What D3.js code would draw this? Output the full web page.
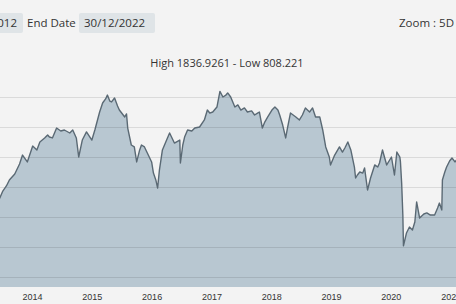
<!DOCTYPE html>
<html>
<head>
<meta charset="utf-8">
<script src="https://cdn.jsdelivr.net/npm/d3@7"></script>
<style>
  html, body { margin: 0; padding: 0; background: #f3f3f3; overflow: hidden; }
  svg { display: block; font-family: "Open Sans", "Noto Sans", sans-serif; }
  .grid line { stroke: rgba(0, 0, 0, 0.1); stroke-width: 1; }
  .axis text { fill: #333; font-size: 9px; }
</style>
</head>
<body>
<svg class="chart" width="456" height="304"></svg>
<script>
// decimal year, index level
const years = [
  2013.42, 2013.46, 2013.51, 2013.57, 2013.62, 2013.71, 2013.79, 2013.84, 2013.92,
  2014.01, 2014.08, 2014.13, 2014.21, 2014.26, 2014.29, 2014.34, 2014.41, 2014.48,
  2014.54, 2014.63, 2014.68, 2014.74, 2014.78, 2014.84, 2014.91, 2015.00, 2015.05,
  2015.13, 2015.18, 2015.23, 2015.26, 2015.30, 2015.33, 2015.38, 2015.43, 2015.46,
  2015.55, 2015.58, 2015.60, 2015.66, 2015.71, 2015.75, 2015.80, 2015.83, 2015.88,
  2015.96, 2016.00, 2016.03, 2016.07, 2016.10, 2016.13, 2016.18, 2016.25, 2016.30,
  2016.38, 2016.47, 2016.48, 2016.52, 2016.55, 2016.60, 2016.67, 2016.72, 2016.80,
  2016.88, 2016.93, 2016.97, 2017.02, 2017.09, 2017.14, 2017.19, 2017.24, 2017.27,
  2017.32, 2017.39, 2017.44, 2017.49, 2017.55, 2017.60, 2017.67, 2017.72, 2017.77,
  2017.80, 2017.85, 2017.89, 2017.94, 2018.01, 2018.06, 2018.11, 2018.14, 2018.19,
  2018.24, 2018.27, 2018.32, 2018.41, 2018.47, 2018.52, 2018.57, 2018.64, 2018.69,
  2018.74, 2018.81, 2018.86, 2018.91, 2018.97, 2018.99, 2019.06, 2019.14, 2019.19,
  2019.23, 2019.28, 2019.33, 2019.39, 2019.41, 2019.44, 2019.48, 2019.53, 2019.56,
  2019.61, 2019.66, 2019.73, 2019.78, 2019.81, 2019.86, 2019.93, 2019.98, 2020.01,
  2020.06, 2020.10, 2020.15, 2020.16, 2020.18, 2020.20, 2020.21, 2020.26, 2020.31,
  2020.36, 2020.40, 2020.43, 2020.48, 2020.55, 2020.60, 2020.66, 2020.73, 2020.78,
  2020.81, 2020.85, 2020.86, 2020.90, 2020.93, 2020.98, 2021.02, 2021.07, 2021.12
]
const levels = [
  1100, 1127, 1173, 1207, 1247, 1287, 1353, 1413, 1367,
  1473, 1447, 1500, 1527, 1547, 1533, 1527, 1593, 1573,
  1580, 1560, 1580, 1527, 1400, 1513, 1567, 1513, 1580,
  1700, 1760, 1787, 1813, 1773, 1767, 1793, 1740, 1713,
  1667, 1687, 1593, 1480, 1467, 1367, 1447, 1480, 1467,
  1400, 1367, 1293, 1247, 1193, 1313, 1447, 1513, 1560,
  1493, 1513, 1360, 1480, 1533, 1580, 1573, 1593, 1600,
  1647, 1713, 1693, 1700, 1733, 1836.9261, 1800, 1813, 1827,
  1800, 1733, 1747, 1713, 1727, 1700, 1707, 1680, 1693,
  1700, 1593, 1633, 1667, 1713, 1733, 1713, 1680, 1613,
  1527, 1593, 1693, 1667, 1647, 1680, 1727, 1700, 1727,
  1667, 1667, 1580, 1467, 1400, 1347, 1413, 1467, 1433,
  1460, 1500, 1447, 1333, 1260, 1280, 1300, 1293, 1327,
  1180, 1260, 1347, 1333, 1360, 1447, 1347, 1380, 1400,
  1280, 1433, 1400, 1367, 1227, 1013, 808.221, 893, 933,
  913, 967, 1100, 993, 1020, 1027, 1013, 1013, 1060,
  1093, 1047, 1247, 1300, 1333, 1373, 1393, 1367, 1393
]
const gridValues = [600, 800, 1000, 1200, 1400, 1600, 1800]
const tickYears = [2014, 2015, 2016, 2017, 2018, 2019, 2020, 2021]
const startDate = "30/12/2012"
const endDate = "30/12/2022"
const zoomLabel = "Zoom : 5D"

const toDate = (y) => {
  const yr = Math.floor(y)
  const t0 = new Date(yr, 0, 1), t1 = new Date(yr + 1, 0, 1)
  return new Date(+t0 + (y - yr) * (t1 - t0))
}
const data = years.map((y, i) => ({ date: toDate(y), value: levels[i] }))
const high = d3.max(levels), low = d3.min(levels)

const svg = d3.select("svg.chart")

// the full chart is wider than the window; only the middle part is seen
const x = d3.scaleTime()
  .domain([new Date(2012, 11, 30), new Date(2022, 11, 30)])
  .range([-28, 570])
const y = d3.scaleLinear().domain([533.3, 1933.3]).range([287, 77])

// header
svg.append("rect").attr("x", -60).attr("y", 13).attr("width", 83).attr("height", 20)
  .attr("rx", 2).attr("fill", "#dfe4e7")
svg.append("text").attr("x", 17).attr("y", 27).attr("text-anchor", "end")
  .attr("font-size", 11.5).attr("fill", "#333").text(startDate)
svg.append("text").attr("x", 27).attr("y", 27)
  .attr("font-size", 11.5).attr("fill", "#333").text("End Date")
svg.append("rect").attr("x", 79).attr("y", 13).attr("width", 76).attr("height", 20)
  .attr("rx", 2).attr("fill", "#dfe4e7")
svg.append("text").attr("x", 84).attr("y", 27)
  .attr("font-size", 11.5).attr("fill", "#333").text(endDate)
svg.append("text").attr("x", 399).attr("y", 27)
  .attr("font-size", 11.5).attr("fill", "#333").text(zoomLabel)

svg.append("text").attr("x", 227).attr("y", 67).attr("text-anchor", "middle")
  .attr("font-size", 11).attr("fill", "#333")
  .text(`High ${high} - Low ${low}`)

const area = d3.area().x((d) => x(d.date)).y0(y.range()[0]).y1((d) => y(d.value))
const line = d3.line().x((d) => x(d.date)).y((d) => y(d.value))

svg.append("path").datum(data).attr("d", area).attr("fill", "#b8c7d1")

svg.append("g").attr("class", "grid")
  .selectAll("line").data(gridValues).enter().append("line")
  .attr("x1", 0).attr("x2", 456)
  .attr("y1", (d) => Math.round(y(d)) + 0.5).attr("y2", (d) => Math.round(y(d)) + 0.5)

svg.append("path").datum(data).attr("d", line)
  .attr("fill", "none").attr("stroke", "#5a6974").attr("stroke-width", 1.4)
  .attr("stroke-linejoin", "round")

const axis = svg.append("g").attr("class", "axis")
  .attr("transform", `translate(0,${y.range()[0]})`)
  .call(d3.axisBottom(x).tickValues(tickYears.map((t) => new Date(t, 0, 1)))
    .tickFormat(d3.timeFormat("%Y")).tickSize(0).tickPadding(4))
axis.select(".domain").remove()
axis.selectAll("text").attr("dy", "0.95em").attr("font-size", 9)
</script>
</body>
</html>
